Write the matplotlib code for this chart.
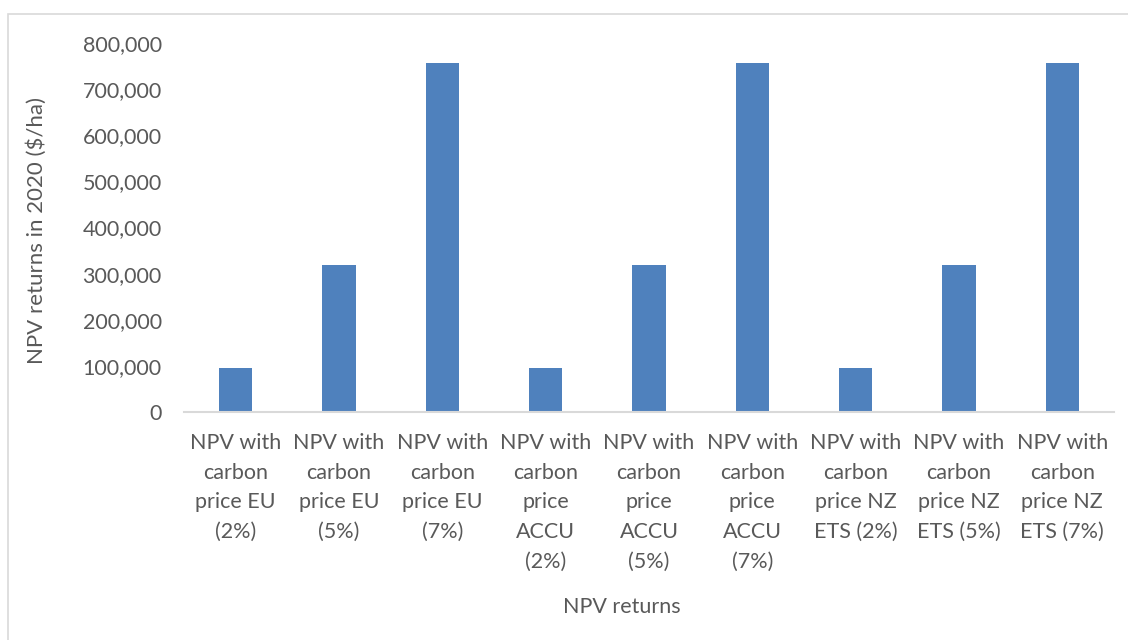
import matplotlib
matplotlib.use("Agg")
import matplotlib.pyplot as plt
from matplotlib.patches import Rectangle
from matplotlib.ticker import FuncFormatter

categories = [
    "NPV with\ncarbon\nprice EU\n(2%)",
    "NPV with\ncarbon\nprice EU\n(5%)",
    "NPV with\ncarbon\nprice EU\n(7%)",
    "NPV with\ncarbon\nprice\nACCU\n(2%)",
    "NPV with\ncarbon\nprice\nACCU\n(5%)",
    "NPV with\ncarbon\nprice\nACCU\n(7%)",
    "NPV with\ncarbon\nprice NZ\nETS (2%)",
    "NPV with\ncarbon\nprice NZ\nETS (5%)",
    "NPV with\ncarbon\nprice NZ\nETS (7%)",
]
values = [95000, 319000, 757000, 95000, 319000, 757000, 95000, 319000, 757000]
yticks = [0, 100000, 200000, 300000, 400000, 500000, 600000, 700000, 800000]

plt.rcParams['font.family'] = ['Lato', 'DejaVu Sans']
txt = '#595959'
fs = 15.5

fig = plt.figure(figsize=(11.28, 6.4), dpi=100)
ax = fig.add_axes([184/1128, (640-412)/640, (1114-184)/1128, (412-43)/640])

x = list(range(len(categories)))
ax.bar(x, values, width=0.32, color='#4f81bd', zorder=2)
ax.set_xlim(-0.5, len(categories) - 0.5)
ax.set_ylim(0, 800000)
ax.set_yticks(yticks)
ax.yaxis.set_major_formatter(FuncFormatter(lambda v, p: f"{int(v):,}"))
ax.set_xticks(x)
ax.set_xticklabels(categories, linespacing=1.61)

for s in ['top', 'right', 'left']:
    ax.spines[s].set_visible(False)
ax.spines['bottom'].set_color('#d9d9d9')
ax.spines['bottom'].set_linewidth(1.5)
ax.tick_params(axis='both', length=0, colors=txt, labelsize=fs)
ax.tick_params(axis='x', pad=15)
ax.tick_params(axis='y', pad=16)

fig.text(37/1128, (640-230)/640, "NPV returns in 2020 ($/ha)", rotation=90, color=txt,
         fontsize=16, ha='center', va='center')
fig.text(622/1128, (640-607)/640, "NPV returns", color=txt, fontsize=fs,
         ha='center', va='center')

fig.patches.append(Rectangle((8/1128, -0.1), 1.2, (640-14)/640 + 0.1, transform=fig.transFigure,
                             fill=False, edgecolor='#d9d9d9', linewidth=1.2))

fig.savefig("out.png", dpi=100)
